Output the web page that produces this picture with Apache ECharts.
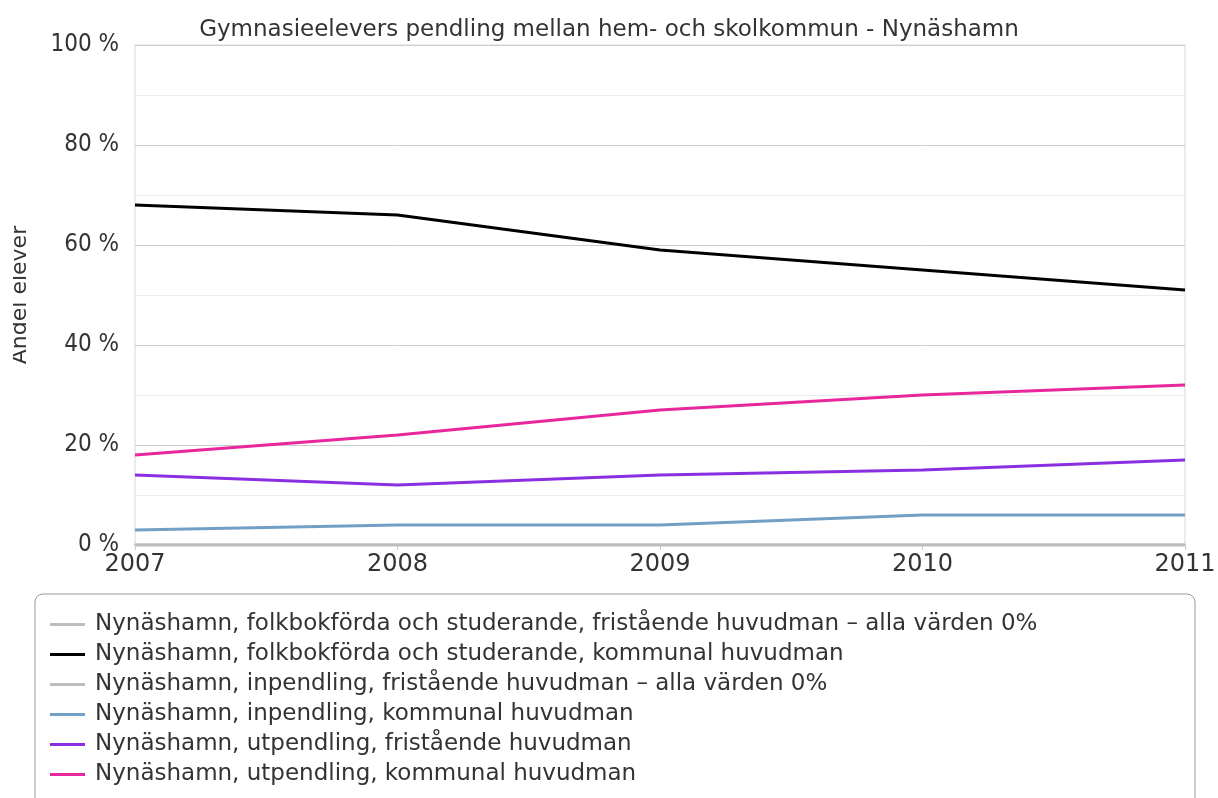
<!DOCTYPE html>
<html>
<head>
<meta charset="utf-8">
<script src="https://cdn.jsdelivr.net/npm/echarts@6/dist/echarts.min.js"></script>
<style>
  html, body { margin: 0; padding: 0; background: #fff; }
  #chart { width: 1218px; height: 798px; }
</style>
</head>
<body>
<div id="chart"></div>
<script>
var years = ['2007', '2008', '2009', '2010', '2011'];
var seriesNames = [
  'Nynäshamn, folkbokförda och studerande, fristående huvudman – alla värden 0%',
  'Nynäshamn, folkbokförda och studerande, kommunal huvudman',
  'Nynäshamn, inpendling, fristående huvudman – alla värden 0%',
  'Nynäshamn, inpendling, kommunal huvudman',
  'Nynäshamn, utpendling, fristående huvudman',
  'Nynäshamn, utpendling, kommunal huvudman'
];
var folkFristaende = [0, 0, 0, 0, 0];
var folkKommunal = [68, 66, 59, 55, 51];
var inFristaende = [0, 0, 0, 0, 0];
var inKommunal = [3, 4, 4, 6, 6];
var utFristaende = [14, 12, 14, 15, 17];
var utKommunal = [18, 22, 27, 30, 32];

var colors = ['#bdbdbd', '#000000', '#bdbdbd', '#729fc6', '#8a2fe0', '#e8279c'];
var values = [folkFristaende, folkKommunal, inFristaende, inKommunal, utFristaende, utKommunal];

var font = 'DejaVu Sans, sans-serif';
var fontNarrow = 'DejaVu Sans Condensed, DejaVu Sans, sans-serif';
var chart = echarts.init(document.getElementById('chart'));

var option = {
  backgroundColor: '#ffffff',
  color: colors,
  title: {
    text: 'Gymnasieelevers pendling mellan hem- och skolkommun - Nynäshamn',
    left: 'center',
    top: 14,
    textStyle: { fontFamily: font, fontSize: 23, fontWeight: 'normal', color: '#333333' }
  },
  grid: {
    left: 135, right: 33, top: 45, bottom: 253,
    containLabel: false,
    outerBoundsMode: 'none',
    show: true, borderColor: '#d8d8d8', borderWidth: 1
  },
  graphic: [{
    type: 'rect',
    z: 0,
    shape: { x: 35, y: 594, width: 1160, height: 260, r: 8 },
    style: { fill: '#ffffff', stroke: '#999999', lineWidth: 1 }
  }, {
    // the original picture cuts off the left part of the axis title
    type: 'rect',
    z: 100,
    shape: { x: 0, y: 200, width: 13, height: 190 },
    style: { fill: '#ffffff' }
  }],
  legend: {
    orient: 'vertical',
    left: 45,
    top: 608,
    height: 300,
    icon: 'rect',
    itemWidth: 35,
    itemHeight: 3,
    itemGap: 7,
    z: 5,
    textStyle: { fontFamily: font, fontSize: 23, color: '#333333', padding: [0, 0, 0, 5] },
    data: seriesNames
  },
  xAxis: {
    type: 'category',
    boundaryGap: false,
    data: years,
    axisLine: { lineStyle: { color: '#c0c0c0', width: 2 } },
    axisTick: { show: true, length: 5, lineStyle: { color: '#cccccc' } },
    axisLabel: { fontFamily: font, fontSize: 24, color: '#333333', margin: 8 }
  },
  yAxis: {
    type: 'value',
    min: 0,
    max: 100,
    interval: 20,
    name: 'Andel elever',
    nameLocation: 'middle',
    nameGap: 104,
    nameTextStyle: { fontFamily: font, fontSize: 22, color: '#333333' },
    axisLine: { show: false },
    axisTick: { show: false },
    axisLabel: { fontFamily: fontNarrow, fontSize: 24, color: '#333333', margin: 16, formatter: '{value} %' },
    splitLine: { lineStyle: { color: '#cccccc', width: 1 } },
    minorTick: { show: false, splitNumber: 2 },
    minorSplitLine: { show: true, lineStyle: { color: '#ececec', width: 1 } }
  },
  series: seriesNames.map(function (name, i) {
    return {
      name: name,
      type: 'line',
      data: values[i],
      symbol: 'none',
      lineStyle: { width: 3, color: colors[i] },
      itemStyle: { color: colors[i] },
      z: values[i][0] === 0 ? 1 : 3
    };
  })
};

chart.setOption(option);
</script>
</body>
</html>
